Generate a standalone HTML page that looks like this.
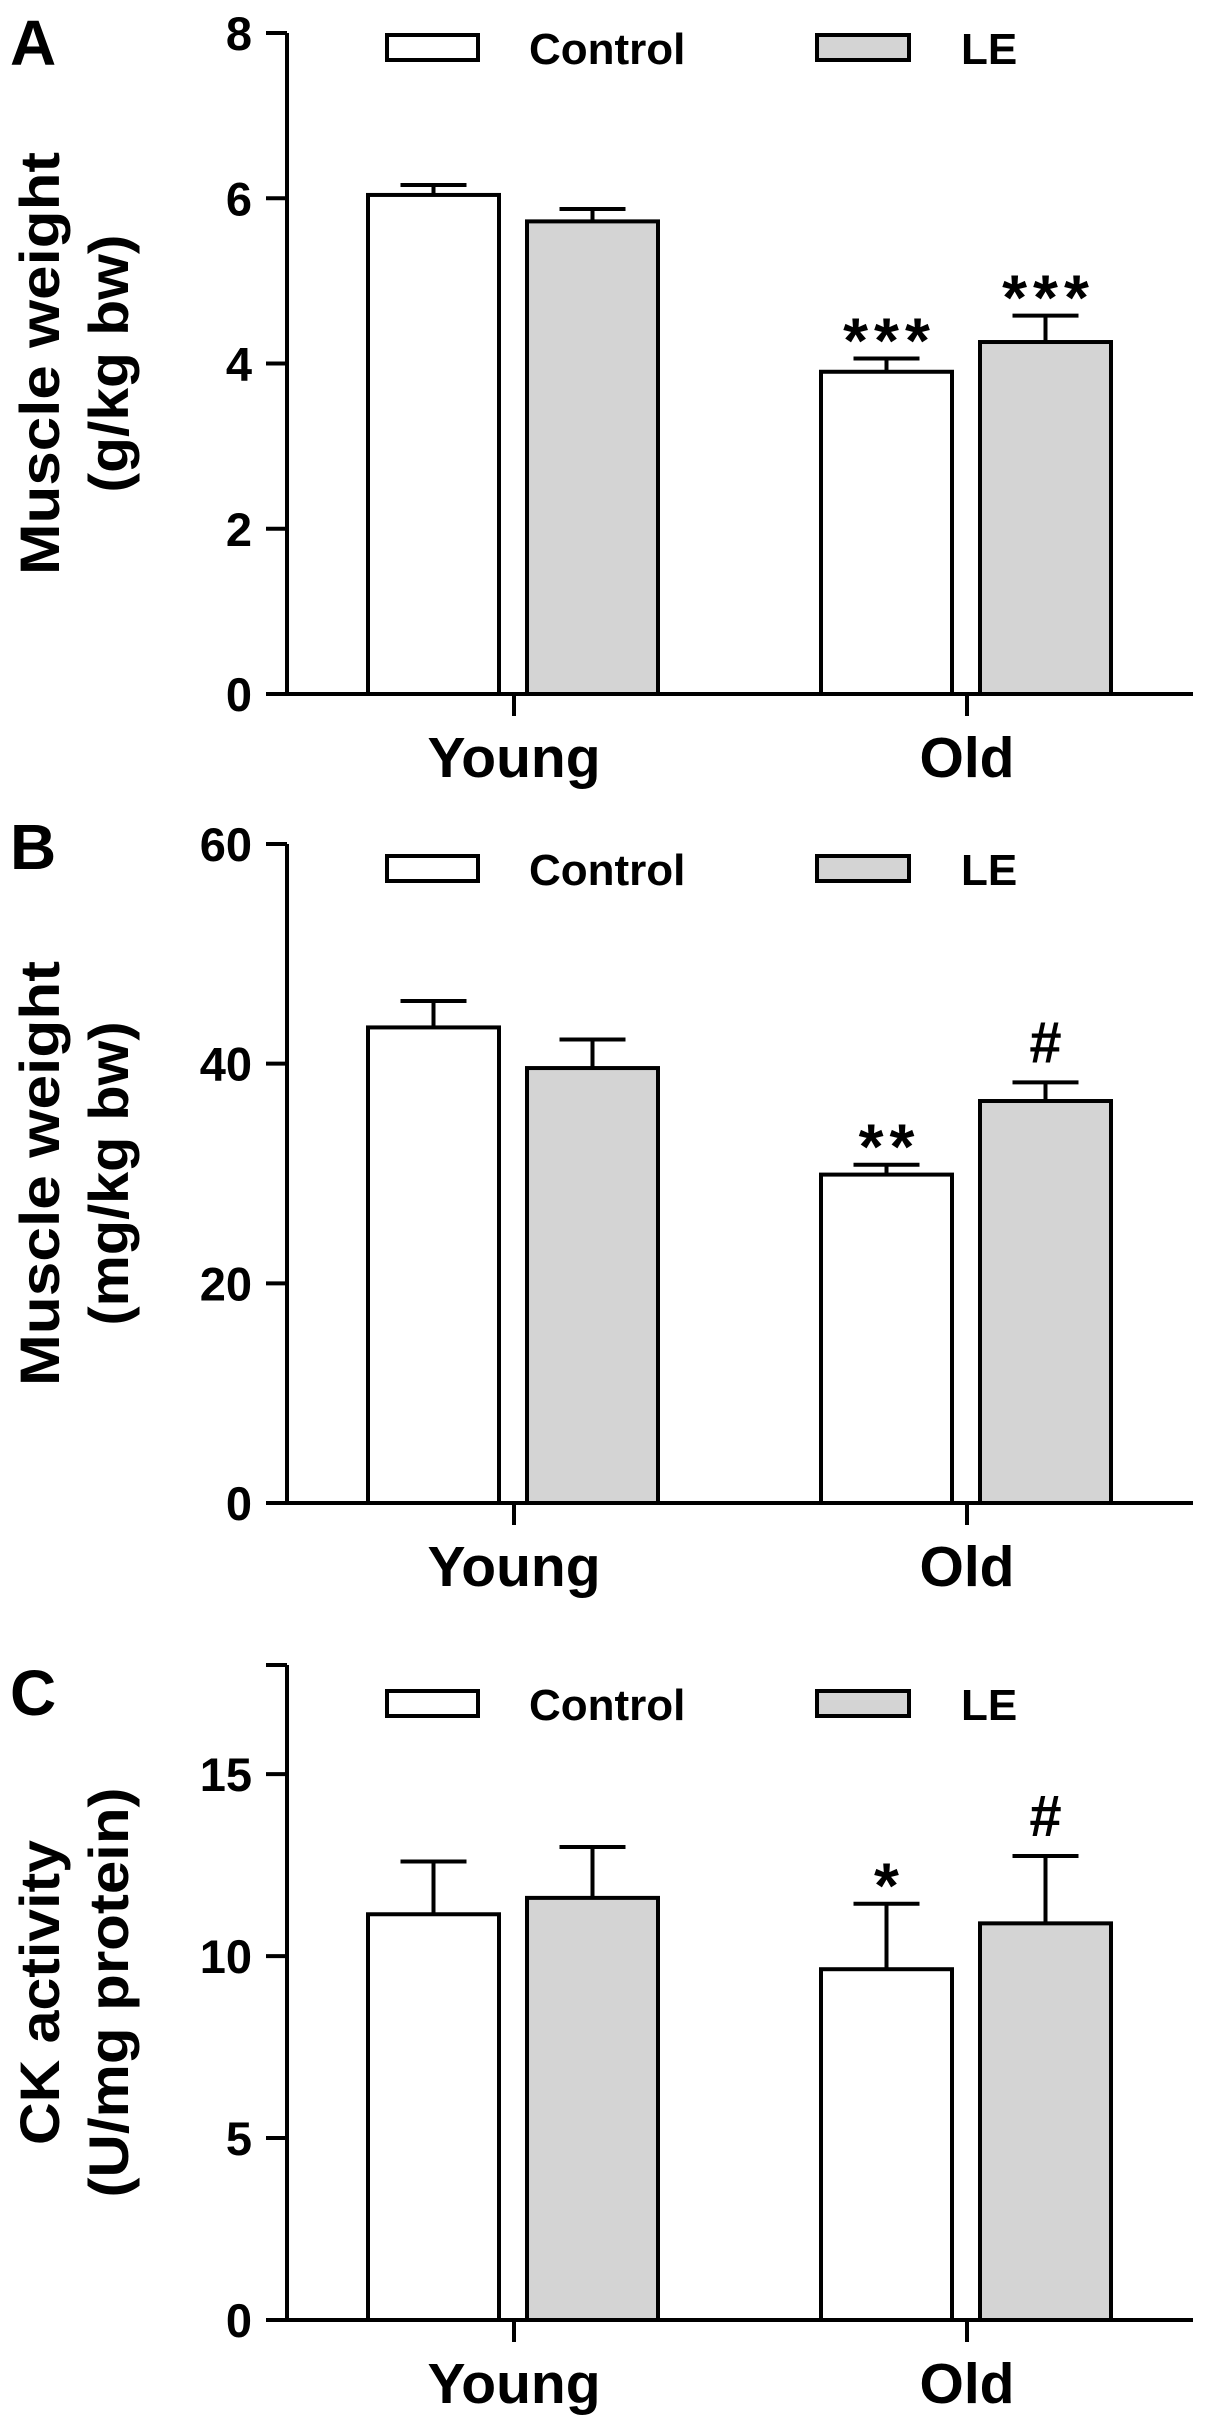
<!DOCTYPE html>
<html><head><meta charset="utf-8"><style>
html,body{margin:0;padding:0;background:#fff;}
svg{display:block;}
text{font-family:"Liberation Sans",Arial,sans-serif;font-weight:bold;fill:#000;}
</style></head><body>
<svg id="fig" width="1205" height="2427" viewBox="0 0 1205 2427" xmlns="http://www.w3.org/2000/svg"></svg>
<script>
// ---- data ----
const categories = ["Young", "Old"];
const seriesNames = ["Control", "LE"];
// Panel A: muscle weight g/kg bw
const aControl = [6.04, 3.90];
const aControlErr = [0.12, 0.16];
const aLE = [5.72, 4.26];
const aLEErr = [0.15, 0.32];
const aTicks = [0, 2, 4, 6, 8];
const aMarks = [["", ""], ["***", "***"]];
// Panel B: muscle weight mg/kg bw
const bControl = [43.3, 29.9];
const bControlErr = [2.4, 0.9];
const bLE = [39.6, 36.6];
const bLEErr = [2.6, 1.7];
const bTicks = [0, 20, 40, 60];
const bMarks = [["", ""], ["**", "#"]];
// Panel C: CK activity U/mg protein
const cControl = [11.15, 9.64];
const cControlErr = [1.45, 1.8];
const cLE = [11.6, 10.9];
const cLEErr = [1.4, 1.85];
const cTicks = [0, 5, 10, 15];
const cMarks = [["", ""], ["*", "#"]];

const NS = "http://www.w3.org/2000/svg";
const svg = document.getElementById("fig");
function mk(tag, attrs, parent) {
  const e = document.createElementNS(NS, tag);
  for (const k in attrs) e.setAttribute(k, attrs[k]);
  (parent || svg).appendChild(e);
  return e;
}
const AX_X = 287, AX_END = 1193;
const groupCenters = [514, 967];
function xBand(gi, si) { return groupCenters[gi] + (si === 0 ? -146 : 13); }
const BW = 131;

function panel(cfg) {
  const g = mk("g", {});
  
  
  const y = v => cfg.y0 - (v - 0) * (cfg.y0 - cfg.yTop) / cfg.max;
  const L = mk("text", {x: 10, y: cfg.letterY, "font-size": 64}, g);
  L.textContent = cfg.letter;
  
  
  const cy = (cfg.y0 + cfg.yTop) / 2;
  cfg.title.forEach((t, i) => {
    const bx = i === 0 ? 59 : 128;
    const tt = mk("text", {x: bx, y: cy, transform: `rotate(-90 ${bx} ${cy})`, "text-anchor": "middle", "font-size": 56, textLength: cfg.titleLen[i], lengthAdjust: "spacingAndGlyphs"}, g);
    tt.textContent = t;
    
    
  });
  const vals = [cfg.ctrl, cfg.le], errs = [cfg.ctrlErr, cfg.leErr];
  categories.forEach((c, gi) => {
    seriesNames.forEach((s, si) => {
      const x = xBand(gi, si), v = vals[si][gi], e = errs[si][gi];
      const cx = x + BW / 2;
      const eb = mk("line", {x1: cx, x2: cx, y1: y(v), y2: y(v + e), stroke: "#000", "stroke-width": 4}, g);
      
      
      const cap = mk("line", {x1: cx - 33, x2: cx + 33, y1: y(v + e), y2: y(v + e), stroke: "#000", "stroke-width": 4}, g);
      
      
      const r = mk("rect", {x: x, y: y(v), width: BW, height: y(0) - y(v), fill: si === 0 ? "#fff" : "#d4d4d4", stroke: "#000", "stroke-width": 4}, g);
      
      
      const m = cfg.marks[gi][si];
      if (m) {
        const isHash = m === "#";
        const t = mk("text", {x: cx + (isHash ? 0 : 3), y: y(v + e) - (isHash ? 20 : -4), "text-anchor": "middle", "font-size": isHash ? 58 : 64, "letter-spacing": isHash ? 0 : 6}, g);
        t.textContent = m;
        
        
      }
    });
    const ct = mk("line", {x1: groupCenters[gi], x2: groupCenters[gi], y1: cfg.y0, y2: cfg.y0 + 22, stroke: "#000", "stroke-width": 4}, g);
    
    
    const cl = mk("text", {x: groupCenters[gi], y: cfg.y0 + 83, "text-anchor": "middle", "font-size": 57}, g);
    cl.textContent = c;
    
    
  });
  const ya = mk("line", {x1: AX_X, x2: AX_X, y1: cfg.yTop, y2: cfg.y0, stroke: "#000", "stroke-width": 4}, g);
  
  
  const xa = mk("line", {x1: 266, x2: AX_END, y1: cfg.y0, y2: cfg.y0, stroke: "#000", "stroke-width": 4}, g);
  
  
  const allTicks = cfg.ticks.slice();
  if (cfg.topTick) allTicks.push(cfg.max);
  allTicks.forEach(tv => {
    const tl = mk("line", {x1: 266, x2: AX_X, y1: y(tv), y2: y(tv), stroke: "#000", "stroke-width": 4}, g);
    
    
  });
  cfg.ticks.forEach(tv => {
    const t = mk("text", {x: 252, y: y(tv) + 17, "text-anchor": "end", "font-size": 47}, g);
    t.textContent = tv;
    
    
  });
  const lb = [[387, 478, 529], [817, 909, 961]];
  seriesNames.forEach((s, si) => {
    const r = mk("rect", {x: lb[si][0], y: cfg.legY, width: lb[si][1] - lb[si][0], height: 25, fill: si === 0 ? "#fff" : "#d4d4d4", stroke: "#000", "stroke-width": 4}, g);
    
    
    const t = mk("text", {x: lb[si][2], y: cfg.legY + 29, "font-size": 44}, g);
    t.textContent = s;
    
    
  });
}

panel({name: "panel-a", letter: "A", letterY: 65, yTop: 33, y0: 694, max: 8, ticks: aTicks, topTick: false,
  ctrl: aControl, ctrlErr: aControlErr, le: aLE, leErr: aLEErr, marks: aMarks, legY: 35,
  title: ["Muscle weight", "(g/kg bw)"], titleLen: [423, 258]});
panel({name: "panel-b", letter: "B", letterY: 869, yTop: 844, y0: 1503, max: 60, ticks: bTicks, topTick: false,
  ctrl: bControl, ctrlErr: bControlErr, le: bLE, leErr: bLEErr, marks: bMarks, legY: 856,
  title: ["Muscle weight", "(mg/kg bw)"], titleLen: [425, 304]});
panel({name: "panel-c", letter: "C", letterY: 1715, yTop: 1665, y0: 2320, max: 18, ticks: cTicks, topTick: true,
  ctrl: cControl, ctrlErr: cControlErr, le: cLE, leErr: cLEErr, marks: cMarks, legY: 1691,
  title: ["CK activity", "(U/mg protein)"], titleLen: [305, 410]});
</script>
</body></html>
